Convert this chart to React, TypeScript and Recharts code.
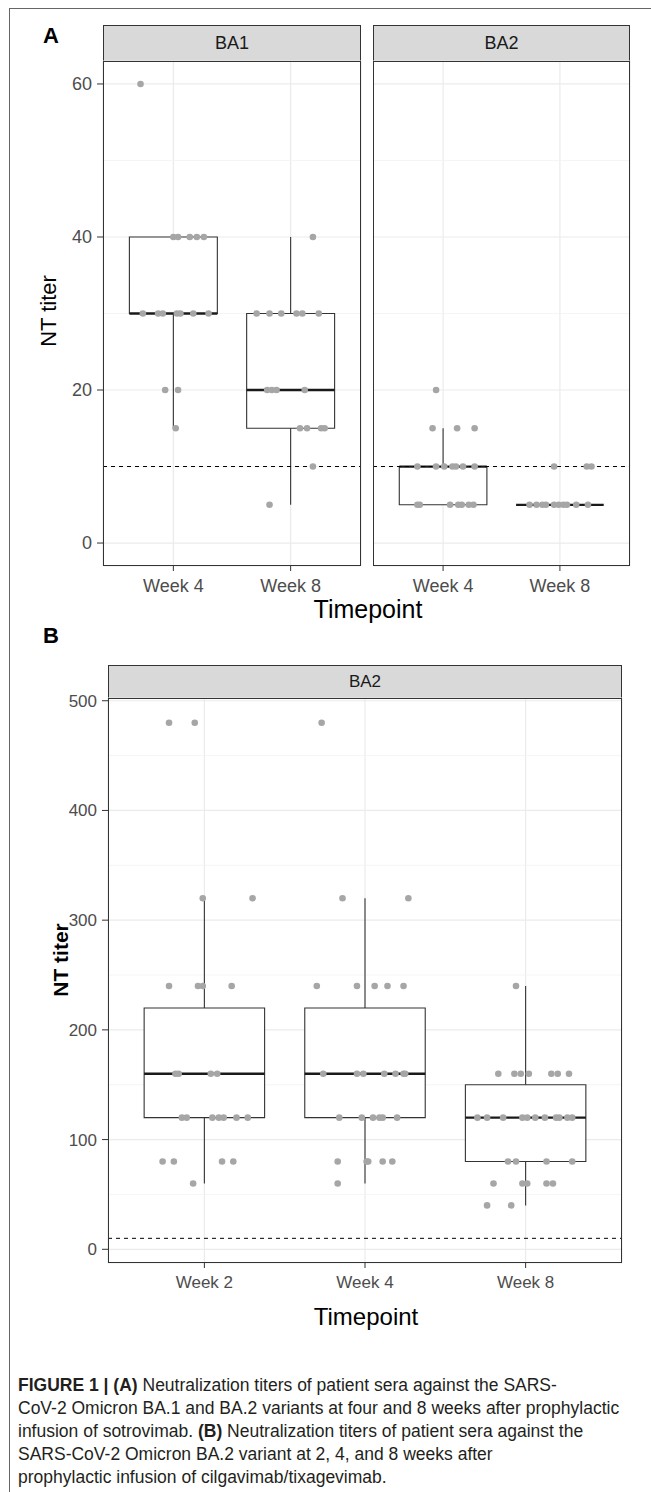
import React from "react";
import {
  CartesianGrid,
  ComposedChart,
  ReferenceArea,
  ReferenceLine,
  Scatter,
  XAxis,
  YAxis,
} from "recharts";

const SANS = "'Liberation Sans', Arial, sans-serif";
const NARROW = "'Liberation Sans Narrow', 'Liberation Sans', Arial, sans-serif";

// categories
const weeksA = ["Week 4", "Week 8"];
const weeksB = ["Week 2", "Week 4", "Week 8"];

// points as [titer, jitter offset in category units]
const ba1Week4: [number, number][] = [
  [60, -0.28], [40, 0.0], [40, 0.04], [40, 0.14], [40, 0.2], [40, 0.26],
  [30, -0.26], [30, -0.13], [30, -0.09], [30, 0.03], [30, 0.06], [30, 0.17], [30, 0.3],
  [20, -0.07], [20, 0.04], [15, 0.02],
];
const ba1Week8: [number, number][] = [
  [40, 0.19], [30, -0.29], [30, -0.18], [30, -0.08], [30, 0.05], [30, 0.1], [30, 0.24],
  [20, -0.2], [20, -0.16], [20, -0.12], [20, 0.12],
  [15, 0.08], [15, 0.14], [15, 0.26], [15, 0.29], [10, 0.19], [5, -0.18],
];
const ba2Week4: [number, number][] = [
  [20, -0.06], [15, -0.09], [15, 0.12], [15, 0.27],
  [10, -0.22], [10, -0.06], [10, 0.01], [10, 0.08], [10, 0.11], [10, 0.17], [10, 0.27],
  [5, -0.22], [5, -0.2], [5, 0.06], [5, 0.13], [5, 0.16], [5, 0.22], [5, 0.26],
];
const ba2Week8: [number, number][] = [
  [10, -0.05], [10, 0.23], [10, 0.27],
  [5, -0.26], [5, -0.2], [5, -0.15], [5, -0.12], [5, -0.05], [5, -0.01], [5, 0.03],
  [5, 0.06], [5, 0.14], [5, 0.24],
];
const bWeek2: [number, number][] = [
  [480, -0.22], [480, -0.06], [320, -0.01], [320, 0.3],
  [240, -0.22], [240, -0.04], [240, -0.01], [240, 0.17],
  [160, -0.18], [160, -0.16], [160, 0.04], [160, 0.08],
  [120, -0.14], [120, -0.11], [120, 0.05], [120, 0.09], [120, 0.12], [120, 0.2], [120, 0.27],
  [80, -0.26], [80, -0.19], [80, 0.11], [80, 0.18], [60, -0.07],
];
const bWeek4: [number, number][] = [
  [480, -0.27], [320, -0.14], [320, 0.27],
  [240, -0.3], [240, -0.05], [240, 0.06], [240, 0.14], [240, 0.24],
  [160, -0.26], [160, -0.05], [160, -0.01], [160, 0.12], [160, 0.19], [160, 0.24], [160, 0.25],
  [120, -0.16], [120, -0.02], [120, 0.05], [120, 0.09], [120, 0.11], [120, 0.2],
  [80, -0.17], [80, 0.01], [80, 0.02], [80, 0.11], [80, 0.17], [60, -0.17],
];
const bWeek8: [number, number][] = [
  [240, -0.06],
  [160, -0.17], [160, -0.07], [160, -0.03], [160, 0.02], [160, 0.16], [160, 0.2], [160, 0.27],
  [120, -0.3], [120, -0.24], [120, -0.14], [120, -0.02], [120, 0.01], [120, 0.06],
  [120, 0.12], [120, 0.19], [120, 0.21], [120, 0.26], [120, 0.29],
  [80, -0.11], [80, -0.06], [80, 0.13], [80, 0.29],
  [60, -0.2], [60, -0.02], [60, 0.01], [60, 0.13], [60, 0.17], [40, -0.24], [40, -0.09],
];

// box stats: [lower whisker, q1, median, q3, upper whisker]
const ba1Boxes = [[15, 30, 30, 40, 40], [5, 15, 20, 30, 40]];
const ba2Boxes = [[5, 5, 10, 10, 15], [5, 5, 5, 5, 5]];
const bBoxes = [[60, 120, 160, 220, 320], [60, 120, 160, 220, 320], [40, 80, 120, 150, 240]];

const ticksA = [0, 20, 40, 60];
const minorA = [10, 30, 50];
const ticksB = [0, 100, 200, 300, 400, 500];
const minorB = [50, 150, 250, 350, 450];
const cutoff = 10;

type FacetProps = {
  left: number;
  top: number;
  width: number;
  height: number;
  yAxisW: number;
  labels: string[];
  groups: [number, number][][];
  boxes: number[][];
  yDomain: [number, number];
  yTicks: number[];
  minor: number[];
  font: string;
  fontSize: number;
};

const dot = (p: any) => <circle cx={p.cx} cy={p.cy} r={3.3} fill="#A6A6A6" />;

function Facet(props: FacetProps) {
  const { left, top, width, height, yAxisW, labels, groups, boxes, yDomain, yTicks, minor, font, fontSize } = props;
  const n = labels.length;
  const points = groups.flatMap((g, i) => g.map(([v, dx]) => ({ x: i + 1 + dx, y: v })));
  const half = 0.375;
  return (
    <div style={{ position: "absolute", left: left - yAxisW, top: top - 10 }}>
      <ComposedChart
        width={yAxisW + width + 10}
        height={height + 10 + 40}
        margin={{ top: 10, right: 10, left: 0, bottom: 0 }}
      >
        <CartesianGrid stroke="#EBEBEB" strokeWidth={1.2} />
        <CartesianGrid stroke="#F3F3F3" strokeWidth={0.8} vertical={false} horizontalValues={minor} />
        <XAxis
          type="number"
          dataKey="x"
          domain={[0.4, n + 0.6]}
          ticks={labels.map((_, i) => i + 1)}
          tickFormatter={(v) => labels[Math.round(v) - 1]}
          interval={0}
          allowDataOverflow
          axisLine={false}
          tickLine={{ stroke: "#333" }}
          tickSize={5}
          tickMargin={8}
          height={40}
          tick={{ fill: "#4D4D4D", fontSize, fontFamily: font }}
        />
        <YAxis
          type="number"
          dataKey="y"
          domain={yDomain}
          ticks={yTicks}
          interval={0}
          allowDataOverflow
          hide={yAxisW === 0}
          width={yAxisW}
          axisLine={false}
          tickLine={{ stroke: "#333" }}
          tickSize={6}
          tickMargin={5}
          tick={{ fill: "#4D4D4D", fontSize, fontFamily: font }}
        />
        {boxes.map(([lo, q1, med, q3, hi], i) => {
          const c = i + 1;
          return (
            <React.Fragment key={i}>
              {hi > q3 && (
                <ReferenceLine segment={[{ x: c, y: q3 }, { x: c, y: hi }]} stroke="#333" strokeWidth={1.1} />
              )}
              {lo < q1 && (
                <ReferenceLine segment={[{ x: c, y: lo }, { x: c, y: q1 }]} stroke="#333" strokeWidth={1.1} />
              )}
              {q3 > q1 && (
                <ReferenceArea
                  x1={c - half}
                  x2={c + half}
                  y1={q1}
                  y2={q3}
                  fill="#fff"
                  fillOpacity={1}
                  stroke="#333"
                  strokeWidth={1.1}
                />
              )}
              <ReferenceLine
                segment={[{ x: c - half, y: med }, { x: c + half, y: med }]}
                stroke="#1A1A1A"
                strokeWidth={2.3}
              />
            </React.Fragment>
          );
        })}
        <ReferenceLine y={cutoff} stroke="#000" strokeDasharray="4 4" strokeWidth={1} />
        <Scatter data={points} isAnimationActive={false} shape={dot} />
      </ComposedChart>
      <div
        style={{
          position: "absolute",
          left: yAxisW,
          top: 10,
          width,
          height,
          border: "1px solid #333",
          boxSizing: "border-box",
          pointerEvents: "none",
        }}
      />
    </div>
  );
}

function Strip({ left, top, width, height, text, font, fontSize }: any) {
  return (
    <div
      style={{
        position: "absolute",
        left,
        top,
        width,
        height,
        background: "#D9D9D9",
        border: "1px solid #333",
        boxSizing: "border-box",
        display: "flex",
        alignItems: "center",
        justifyContent: "center",
        fontFamily: font,
        fontSize,
        color: "#1A1A1A",
      }}
    >
      {text}
    </div>
  );
}

function Label({ cx, cy, text, size, font, bold, rotate }: any) {
  return (
    <div
      style={{
        position: "absolute",
        left: cx,
        top: cy,
        transform: `translate(-50%, -50%)${rotate ? " rotate(-90deg)" : ""}`,
        fontFamily: font,
        fontSize: size,
        fontWeight: bold ? "bold" : "normal",
        lineHeight: 1,
        whiteSpace: "nowrap",
        color: "#000",
      }}
    >
      {text}
    </div>
  );
}

export default function App() {
  return (
    <div style={{ position: "absolute", left: 0, top: 0, width: 651, height: 1492, background: "#fff", overflow: "hidden" }}>
      <div style={{ position: "absolute", left: 9, top: 8, width: 700, height: 1600, borderLeft: "1px solid #666", borderTop: "1px solid #666" }} />

      <Label cx={51} cy={36} text="A" size={22} font={SANS} bold />
      <Strip left={103} top={25} width={258} height={37} text="BA1" font={SANS} fontSize={18} />
      <Strip left={373} top={25} width={257} height={37} text="BA2" font={SANS} fontSize={18} />
      <Facet
        left={103}
        top={61}
        width={258}
        height={505}
        yAxisW={103}
        labels={weeksA}
        groups={[ba1Week4, ba1Week8]}
        boxes={ba1Boxes}
        yDomain={[-3, 63]}
        yTicks={ticksA}
        minor={minorA}
        font={SANS}
        fontSize={18}
      />
      <Facet
        left={373}
        top={61}
        width={257}
        height={505}
        yAxisW={0}
        labels={weeksA}
        groups={[ba2Week4, ba2Week8]}
        boxes={ba2Boxes}
        yDomain={[-3, 63]}
        yTicks={ticksA}
        minor={minorA}
        font={SANS}
        fontSize={18}
      />
      <Label cx={49} cy={311} text="NT titer" size={22} font={SANS} rotate />
      <Label cx={368} cy={609} text="Timepoint" size={25} font={SANS} />

      <Label cx={51} cy={636} text="B" size={22} font={SANS} bold />
      <Strip left={108} top={665} width={514} height={34} text="BA2" font={NARROW} fontSize={17} />
      <Facet
        left={108}
        top={698}
        width={514}
        height={565}
        yAxisW={108}
        labels={weeksB}
        groups={[bWeek2, bWeek4, bWeek8]}
        boxes={bBoxes}
        yDomain={[-12.5, 502.5]}
        yTicks={ticksB}
        minor={minorB}
        font={NARROW}
        fontSize={17}
      />
      <Label cx={60} cy={960} text="NT titer" size={21} font={NARROW} bold rotate />
      <Label cx={366} cy={1317} text="Timepoint" size={24} font={NARROW} />

      <div
        style={{
          position: "absolute",
          left: 18,
          top: 1374,
          width: 630,
          fontFamily: NARROW,
          fontSize: 17.5,
          lineHeight: "23px",
          color: "#231F20",
        }}
      >
        <b>FIGURE 1 | (A)</b> Neutralization titers of patient sera against the SARS-
        <br />
        CoV-2 Omicron BA.1 and BA.2 variants at four and 8 weeks after prophylactic
        <br />
        infusion of sotrovimab. <b>(B)</b> Neutralization titers of patient sera against the
        <br />
        SARS-CoV-2 Omicron BA.2 variant at 2, 4, and 8 weeks after
        <br />
        prophylactic infusion of cilgavimab/tixagevimab.
      </div>
    </div>
  );
}
